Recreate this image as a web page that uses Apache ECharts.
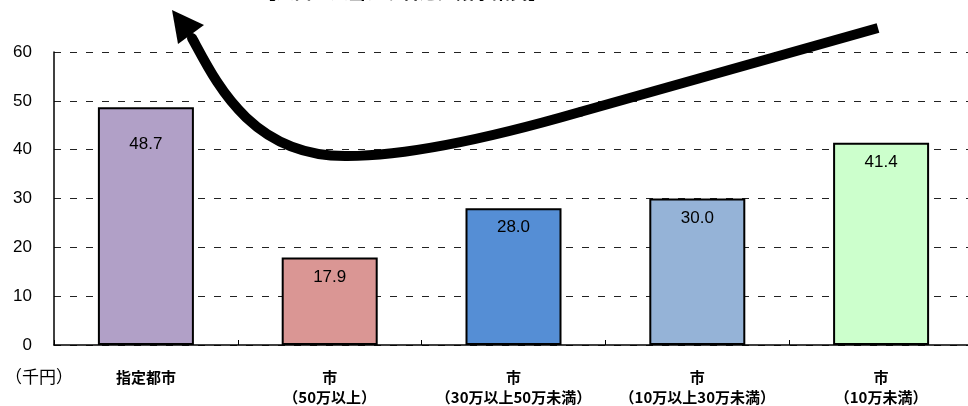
<!DOCTYPE html>
<html>
<head>
<meta charset="utf-8">
<script src="https://cdn.jsdelivr.net/npm/echarts@6/dist/echarts.min.js"></script>
<style>html,body{margin:0;padding:0;background:#fff}#c{width:968px;height:406px}</style>
</head>
<body>
<div id="c"></div>
<script>
const categories = ['指定都市', '市\n（50万以上）', '市\n（30万以上50万未満）', '市\n（10万以上30万未満）', '市\n（10万未満）'];
const values = [48.7, 17.9, 28.0, 30.0, 41.4];
const barColors = ['#B1A0C7', '#DA9694', '#558ED5', '#95B3D7', '#CCFFCC'];
const labelDistances = [29, 11, 11, 11, 11];
const yTicks = [0, 10, 20, 30, 40, 50, 60];
const titleText = '【人口一人当たり普通建設事業費】';
const unitText = '（千円）';

const FONT = '"Liberation Sans", "Noto Sans CJK JP", sans-serif';
const JP = '"Noto Sans CJK JP", sans-serif';
const chart = echarts.init(document.getElementById('c'), null, {renderer: 'canvas'});
const arrowStyle = {fill: null, stroke: '#000', lineWidth: 10};

const option = {
  animation: false,
  backgroundColor: '#fff',
  grid: {left: 54, top: 52, width: 919, height: 293, containLabel: false, outerBoundsMode: 'none'},
  xAxis: {
    type: 'category',
    data: categories,
    axisLine: {show: true, lineStyle: {color: '#000', width: 1.5}},
    axisTick: {show: true, inside: true, length: 5, lineStyle: {color: '#000'}},
    axisLabel: {color: '#000', fontSize: 15, fontWeight: 'bold', fontFamily: JP, margin: 22, lineHeight: 20, interval: 0},
    splitLine: {show: false}
  },
  yAxis: {
    type: 'value',
    min: yTicks[0],
    max: yTicks[yTicks.length - 1],
    interval: 10,
    axisLine: {show: true, lineStyle: {color: '#000', width: 1.5}},
    axisTick: {show: false},
    axisLabel: {color: '#000', fontSize: 17, fontFamily: FONT, margin: 22},
    splitLine: {show: true, lineStyle: {color: '#222', type: [7, 9], width: 1}}
  },
  series: [{
    type: 'bar',
    barWidth: 96,
    data: values.map((v, i) => ({
      value: v,
      itemStyle: {color: barColors[i], borderColor: '#000', borderWidth: 2},
      label: {show: true, position: 'insideTop', distance: labelDistances[i], formatter: p => p.value.toFixed(1), color: '#000', fontSize: 17, fontFamily: FONT}
    }))
  }],
  graphic: [
    {type: 'text', x: 5, y: 368, style: {text: unitText, fontSize: 17, fontFamily: JP, fill: '#000'}},
    {type: 'text', x: 402, y: -17, style: {text: titleText, fontSize: 18, fontWeight: 'bold', fontFamily: JP, fill: '#000', textAlign: 'center', textVerticalAlign: 'top'}},
    {type: 'line', z: 100, shape: {x1: 878, y1: 28, x2: 580, y2: 112}, style: Object.assign({lineCap: 'butt'}, arrowStyle)},
    {type: 'bezierCurve', z: 100, shape: {x1: 580, y1: 112, cpx1: 428, cpy1: 156, x2: 347, y2: 156}, style: Object.assign({lineCap: 'round'}, arrowStyle)},
    {type: 'bezierCurve', z: 100, shape: {x1: 347, y1: 156, cpx1: 250, cpy1: 157, cpx2: 215, cpy2: 80, x2: 192, y2: 38}, style: Object.assign({lineCap: 'round'}, arrowStyle)},
    {type: 'polygon', z: 101, shape: {points: [[172, 10], [178, 44], [204, 25]]}, style: {fill: '#000'}}
  ]
};
chart.setOption(option);
</script>
</body>
</html>
